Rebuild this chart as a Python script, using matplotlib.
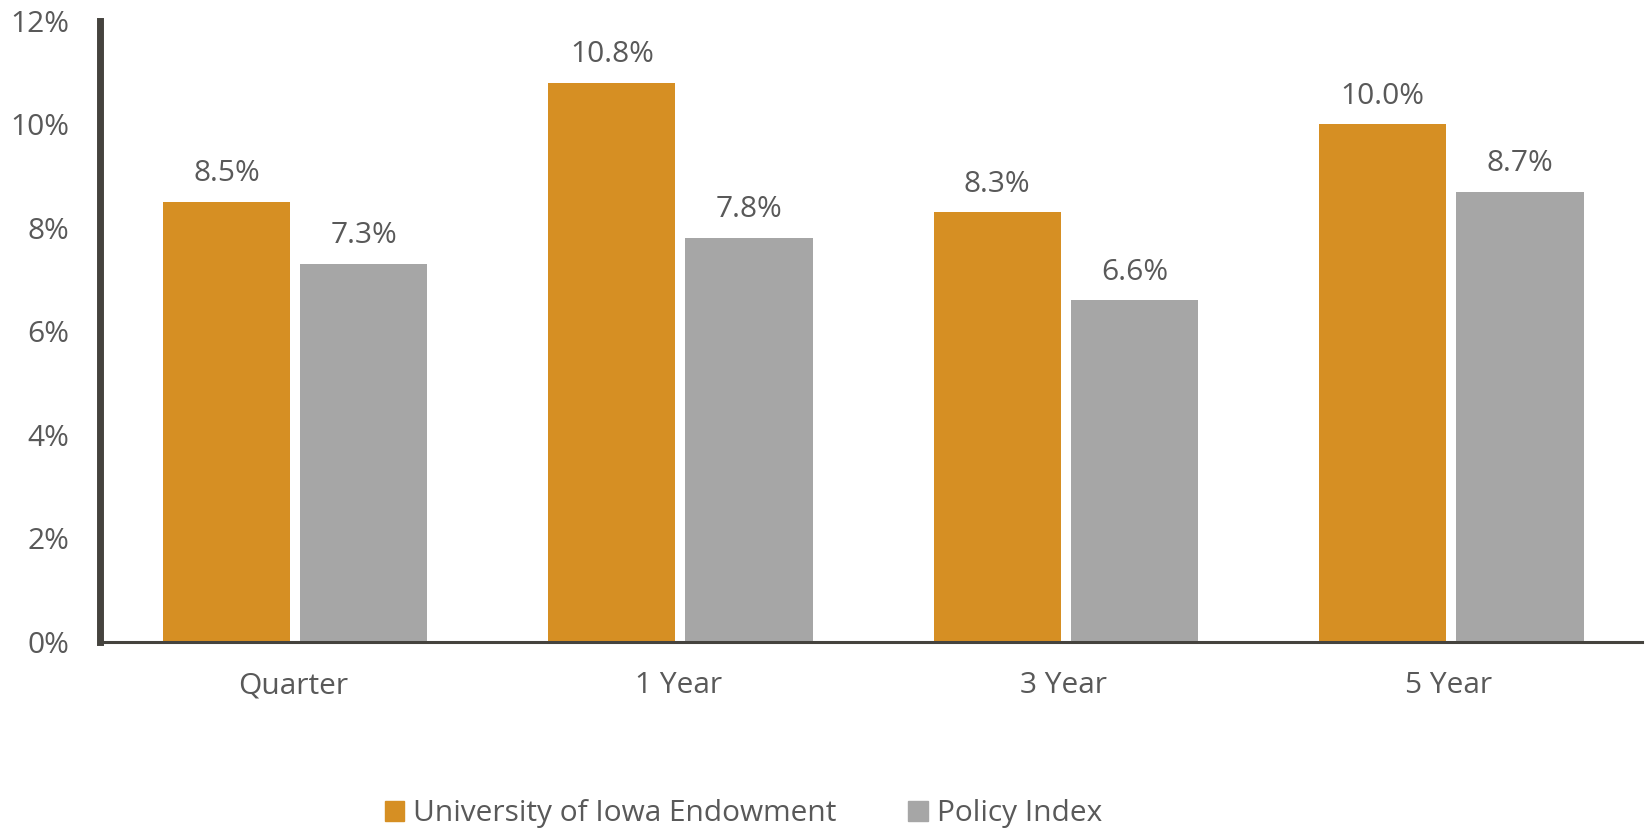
import matplotlib.pyplot as plt
import numpy as np
from matplotlib.patches import Patch

plt.rcParams['font.family'] = ['Open Sans', 'DejaVu Sans']

categories = ['Quarter', '1 Year', '3 Year', '5 Year']
endowment = [8.5, 10.8, 8.3, 10.0]
policy = [7.3, 7.8, 6.6, 8.7]
series_names = ['University of Iowa Endowment', 'Policy Index']

ORANGE = '#D68F23'
GREY = '#A6A6A6'
TEXT = '#595959'
AXIS = '#45433E'
FS = 21.5

fig = plt.figure(figsize=(16.45, 8.32), dpi=100)
ax = fig.add_axes([0.0608, 0.2284, 0.9372, 0.7464])

x = np.arange(len(categories))
w = 0.33
off = 0.178
b1 = ax.bar(x - off + 0.006, endowment, w, color=ORANGE)
b2 = ax.bar(x + off + 0.006, policy, w, color=GREY)

# value labels above each bar
for bars, vals in ((b1, endowment), (b2, policy)):
    for b, v in zip(bars, vals):
        ax.annotate(f'{v:.1f}%', (b.get_x() + b.get_width() / 2, v),
                    xytext=(0, 10), textcoords='offset points',
                    ha='center', va='bottom', fontsize=FS, color=TEXT)

ax.set_xlim(-0.5, len(categories) - 0.5)
ax.set_ylim(0, 12)
ax.set_yticks(range(0, 13, 2))
ax.set_yticklabels([f'{t}%' for t in range(0, 13, 2)])
ax.set_xticks(x)
ax.set_xticklabels(categories)
ax.tick_params(axis='both', length=0, labelsize=FS, labelcolor=TEXT)
ax.tick_params(axis='y', pad=22)
ax.tick_params(axis='x', pad=21)

for s in ('top', 'right'):
    ax.spines[s].set_visible(False)
ax.spines['left'].set_linewidth(5)
ax.spines['left'].set_color(AXIS)
ax.spines['bottom'].set_linewidth(2.2)
ax.spines['bottom'].set_color(AXIS)

handles = [Patch(color=ORANGE), Patch(color=GREY)]
fig.legend(handles, series_names, loc='center', bbox_to_anchor=(0.452, 0.022),
           ncol=2, frameon=False, fontsize=FS, labelcolor=TEXT,
           handlelength=0.65, handleheight=0.65, handletextpad=0.3,
           columnspacing=2.4)

fig.savefig('out.png', dpi=100)
